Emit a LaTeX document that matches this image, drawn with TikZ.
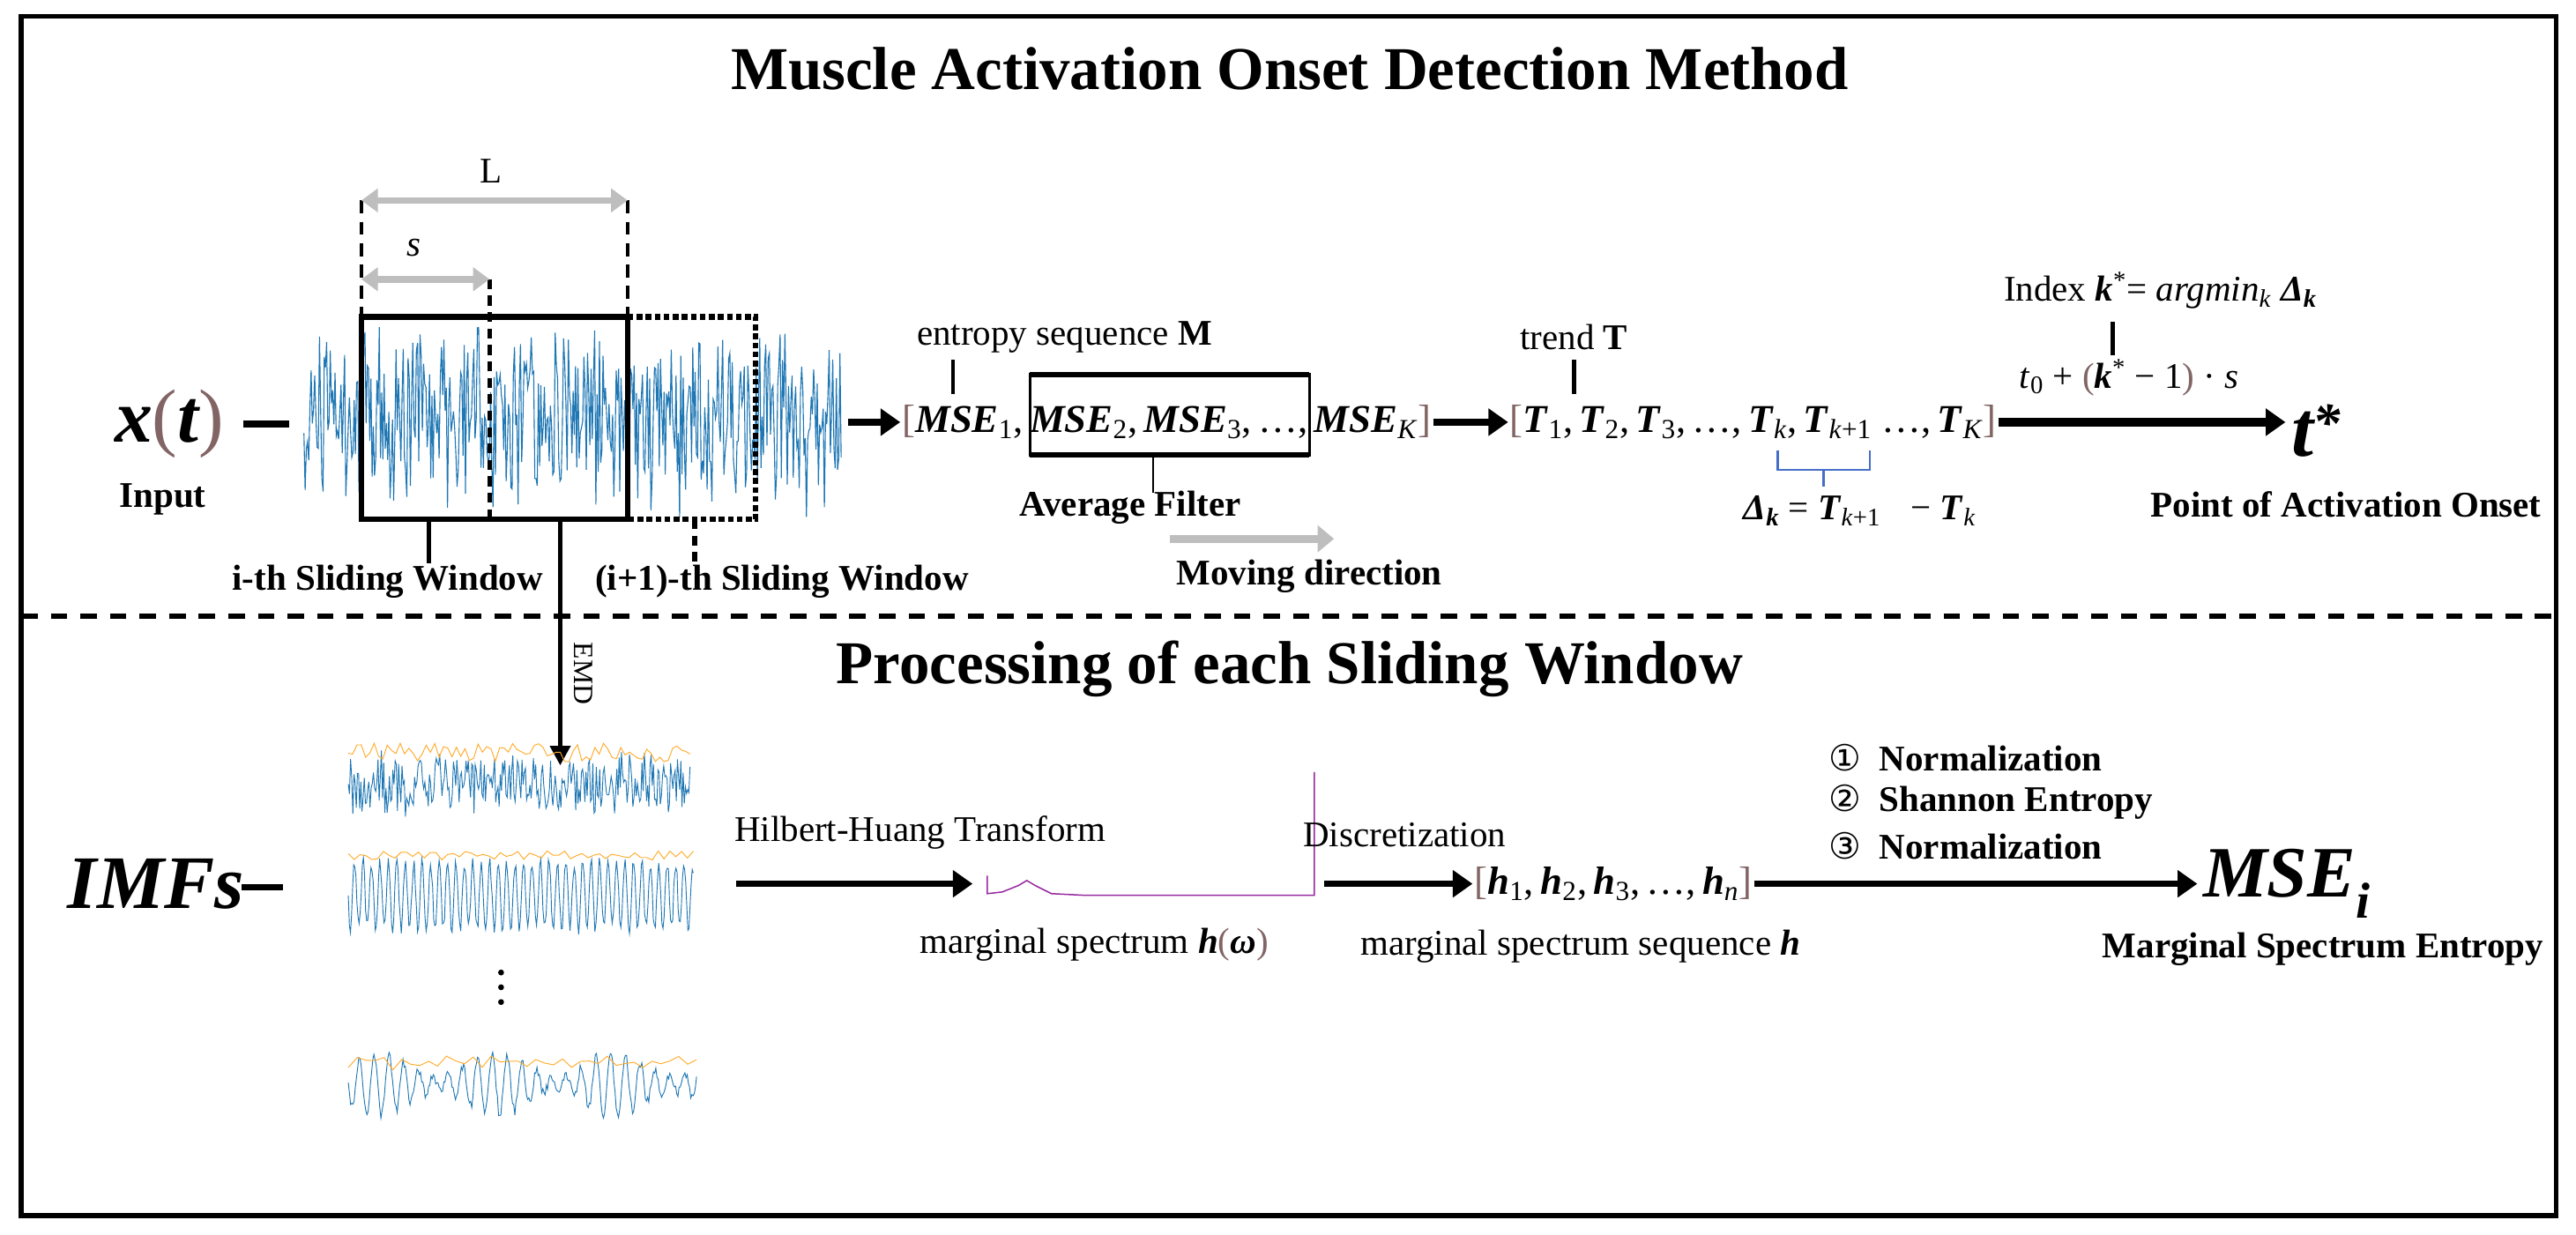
\documentclass[tikz,border=0pt]{standalone}
\usepackage{fontspec}
\setmainfont{Liberation Serif}
\newfontfamily\djv{DejaVu Sans}
\usetikzlibrary{arrows.meta}
\definecolor{sig}{RGB}{31,119,180}
\definecolor{env}{RGB}{255,170,40}
\definecolor{par}{RGB}{130,100,100}
\definecolor{gr}{RGB}{190,190,190}
\definecolor{br}{RGB}{70,110,200}
\definecolor{spec}{RGB}{150,40,160}
\newcommand{\mi}[1]{\textbf{\textit{#1}}}
\newcommand{\sbs}[1]{\textsubscript{#1}}
\begin{document}
\begin{tikzpicture}[x=1pt,y=-1pt,
  txt/.style={font=\fontsize{22}{24}\selectfont, inner sep=1pt},
  btxt/.style={font=\fontsize{22}{24}\selectfont\bfseries, inner sep=1pt},
  seq/.style={font=\fontsize{24}{26}\selectfont, inner sep=1pt},
  big/.style={font=\fontsize{46}{50}\selectfont\bfseries\itshape, inner sep=1pt},
  ttl/.style={font=\fontsize{37}{42}\selectfont\bfseries, inner sep=1pt},
  arr/.style={line width=4pt,-{Triangle[length=12pt,width=16pt]}},
  garr/.style={line width=4pt,gr,{Triangle[length=10pt,width=14pt]}-{Triangle[length=10pt,width=14pt]}},
  tick/.style={line width=2.5pt}]
\useasboundingbox (0,0) rectangle (1568,751.3);
\draw[line width=3pt] (13,10) rectangle (1556,740);
\draw[line width=3pt,dash pattern=on 10pt off 8pt] (13,375) -- (1556,375);
\node[ttl] (t1) at (785,42) {Muscle Activation Onset Detection Method};
\node[ttl] (t2) at (785,407) {Processing of each Sliding Window};

% input
\node[big] (xt) at (103,258) {x\textcolor{par}{\textup{\mdseries(}}t\textcolor{par}{\textup{\mdseries)}}};
\node[btxt] (inp) at (99,304) {Input};
\coordinate (d1) at (148,258); \coordinate (d2) at (176,258);
\draw[line width=4pt] (d1) -- (d2);
\pgfmathsetseed{7}
\draw[sig,line width=0.6pt] plot[domain=185:512,samples=450] (\x,{254+rand*62*(0.5+0.5*rnd)});

% windows
\coordinate (w1) at (220,193); \coordinate (w2) at (382,316);
\draw[line width=3.5pt] (w1) rectangle (w2);
\draw[line width=3.5pt,dotted] (382,193) -- (460,193) -- (460,316) -- (382,316);
\draw[line width=2pt,dash pattern=on 8pt off 5pt] (220,122) -- (220,193);
\draw[line width=2pt,dash pattern=on 8pt off 5pt] (382,122) -- (382,193);
\draw[line width=2.5pt,dash pattern=on 6pt off 4pt] (298,170) -- (298,316);
\coordinate (la) at (220,122); \coordinate (lb) at (382,122);
\draw[garr] (la) -- (lb);
\node[txt] (L) at (299,104) {L};
\coordinate (sa) at (220,170); \coordinate (sb) at (298,170);
\draw[garr] (sa) -- (sb);
\node[txt,font=\fontsize{22}{24}\selectfont\itshape] (s) at (252,151) {s};
\node[btxt] (iw) at (236,354) {i-th Sliding Window};
\node[btxt] (iw2) at (476,354) {(i+1)-th Sliding Window};
\draw[line width=3pt] (261,316) -- (iw.north -| 261,0);
\draw[line width=3pt,dash pattern=on 6pt off 4pt] (423,316) -- (iw2.north -| 423,0);

% MSE sequence
\coordinate (a1) at (516,257);
\node[seq,anchor=west] (mse) at (548,257) {\textcolor{par}{[}\mi{MSE}\sbs{1},\,\mi{MSE}\sbs{2},\,\mi{MSE}\sbs{3},\,\dots,\,\mi{MSE}\sbs{\textit{K}}\textcolor{par}{]}};
\draw[arr] (a1) -- (mse.west);
\draw[line width=1.5pt] (627,228) rectangle (797,277);
\draw[line width=3.5pt] (627,228) -- (797,228) (627,277) -- (797,277);
\node[txt] (esM) at (648,205) {entropy sequence \textbf{M}};
\draw[tick] (580,219) -- (580,240);
\node[btxt] (af) at (688,309) {Average Filter};
\draw[line width=1.2pt] (702,277) -- (702,300);
\coordinate (m1) at (712,328); \coordinate (m2) at (812,328);
\draw[line width=5pt,gr,-{Triangle[length=10pt,width=16pt]}] (m1) -- (m2);
\node[btxt] (md) at (797,351) {Moving direction};

% trend
\node[seq,anchor=west] (tr) at (918,257) {\textcolor{par}{[}\mi{T}\sbs{1},\,\mi{T}\sbs{2},\,\mi{T}\sbs{3},\,\dots,\,\mi{T}\sbs{\textit{k}},\,\mi{T}\sbs{\textit{k}+1} \dots,\,\mi{T}\sbs{\textit{K}}\textcolor{par}{]}};
\draw[arr] (mse.east) -- (tr.west);
\node[txt] (trT) at (958,205) {trend \textbf{T}};
\draw[tick] (958,219) -- (958,240);
\draw[br,line width=1.3pt] (1082,274) -- (1082,286) -- (1138,286) -- (1138,274) (1110,286) -- (1110,296);
\node[txt] (dk) at (1132,311) {\mi{Δ}\sbs{\textbf{\textit{k}}} = \mi{T}\sbs{\textit{k}+1} \,\, − \mi{T}\sbs{\textit{k}}};

% t*
\node[font=\fontsize{48}{52}\selectfont\bfseries\itshape] (ts) at (1410,262) {t\textsuperscript{*}};
\draw[arr,line width=5pt] (tr.east) -- (tr.east -| ts.west);
\node[txt] (idx) at (1315,177) {Index \mi{k}\textsuperscript{*}= \textit{argmin}\sbs{\textit{k}} \mi{Δ}\sbs{\textbf{\textit{k}}}};
\draw[tick] (1286,196) -- (1286,216);
\node[txt] (t0) at (1296,230) {\textit{t}\sbs{0} + \textcolor{par}{(}\mi{k}\textsuperscript{*} − 1\textcolor{par}{)} · \textit{s}};
\node[btxt] (pao) at (1428,307) {Point of Activation Onset};

% EMD
\coordinate (e1) at (341,316); \coordinate (e2) at (341,466);
\draw[line width=3pt,-{Triangle[length=12pt,width=12pt]}] (e1) -- (e2);
\node[txt,rotate=-90,font=\fontsize{17}{18}\selectfont] (emd) at (355,410) {EMD};

% IMFs
\node[big] (imf) at (95,538) {IMFs};
\draw[line width=4pt] (147,540) -- (172,540);
\pgfmathsetseed{3}
\draw[sig,line width=0.5pt] plot[domain=212:420,samples=300] (\x,{477+rand*22*(0.5+0.5*rnd)});
\draw[env,line width=0.5pt] plot[domain=212:420,samples=80] (\x,{464-rnd*12});
\draw[sig,line width=0.5pt] plot[domain=0:210,samples=320] ({212+\x},{545+20*sin(\x*70)+rand*4});
\draw[env,line width=0.5pt] plot[domain=212:422,samples=60] (\x,{524-rnd*6});
\foreach \yy in {592,601,610} \fill (305,\yy) circle (1.8pt);
\draw[sig,line width=0.5pt] plot[domain=0:212,samples=300] ({212+\x},{660+12*sin(\x*40)*(1+0.6*sin(\x*5))+rand*3});
\draw[env,line width=0.5pt] plot[domain=0:212,samples=40] ({212+\x},{652-6*abs(sin(\x*20))-rnd*4});

% HHT
\coordinate (h1) at (448,538);
\coordinate (h2) at (592,538);
\draw[arr] (h1) -- (h2);
\node[txt] (hht) at (560,507) {Hilbert-Huang Transform};
\draw[spec,line width=0.8pt] (601,533) -- (601,544) -- (610,543) -- (615,541) -- (620,539) -- (625,536) -- (630,539) -- (640,544) -- (660,545) -- (800,545) -- (800,470);
\node[txt] (ms) at (666,575) {marginal spectrum \mi{h}\textcolor{par}{(}\mi{ω}\textcolor{par}{)}};
\node[txt] (disc) at (855,508) {Discretization};
\node[seq] (hs) at (982,538) {\textcolor{par}{[}\mi{h}\sbs{1},\,\mi{h}\sbs{2},\,\mi{h}\sbs{3},\,\dots,\,\mi{h}\sbs{\textit{n}}\textcolor{par}{]}};
\coordinate (h3) at (806,538);
\draw[arr] (h3) -- (hs.west);
\node[txt] (mss) at (962,576) {marginal spectrum sequence \mi{h}};
\node[btxt,anchor=west] (n1) at (1112,461) {{\djv\mdseries ①} \ Normalization};
\node[btxt,anchor=west] (n2) at (1112,488) {{\djv\mdseries ②} \ Shannon Entropy};
\node[btxt,anchor=west] (n3) at (1112,515) {{\djv\mdseries ③} \ Normalization};
\node[font=\fontsize{44}{48}\selectfont\bfseries\itshape] (msei) at (1392,538) {MSE\sbs{i}};
\draw[arr] (hs.east) -- (hs.east -| msei.west);
\node[btxt] (mse2) at (1414,578) {Marginal Spectrum Entropy};
\end{tikzpicture}
\end{document}
